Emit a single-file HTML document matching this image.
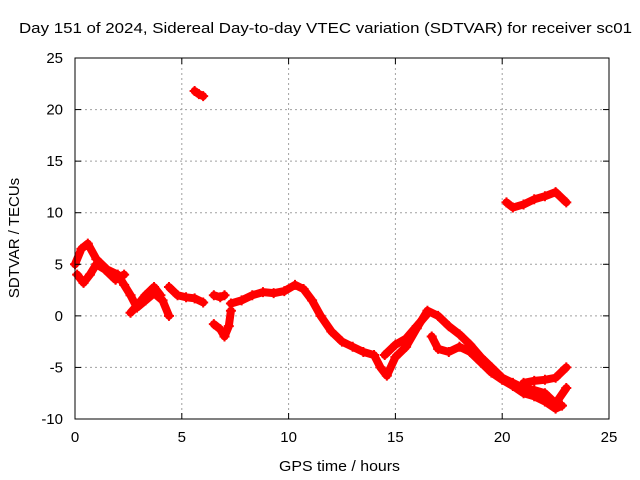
<!DOCTYPE html>
<html><head><meta charset="utf-8"><style>
body{margin:0;background:#fff}
svg{display:block;font-family:"Liberation Sans",sans-serif}
</style></head><body>
<svg id="c" width="640" height="480">
<text x="19" y="33" font-size="15" textLength="613" lengthAdjust="spacingAndGlyphs">Day 151 of 2024, Sidereal Day-to-day VTEC variation (SDTVAR) for receiver sc01</text>
<text x="279" y="471" font-size="15" textLength="121" lengthAdjust="spacingAndGlyphs">GPS time / hours</text>
<text transform="translate(19,238) rotate(-90)" text-anchor="middle" font-size="15">SDTVAR / TECUs</text>
<g id="grid"></g><g id="marks"></g><g id="axes"></g>
</svg>
<script>
const xTicks=[0,5,10,15,20,25];
const yTicks=[-10,-5,0,5,10,15,20,25];
const sA_t=[0,0.3,0.6,1,1.5,2,2.3,2.6,2.9,3.3,3.7,4.1,4.4];
const sA_v=[5,6.5,7,5.5,4.5,4,3,2,0.8,1.5,2.2,1.5,0];
const sB_t=[0.1,0.4,0.7,1,1.4,1.9,2.3];
const sB_v=[4,3.2,4,5,4.5,3.5,4];
const sC_t=[2.6,2.9,3.3,3.7,4];
const sC_v=[0.3,1,2,2.8,2];
const sD_t=[4.4,4.8,5.2,5.6,6];
const sD_v=[2.8,2,1.8,1.7,1.3];
const sE_t=[6.5,6.8,7.0];
const sE_v=[2,1.8,2];
const sF_t=[6.5,6.8,7.0,7.2,7.3];
const sF_v=[-0.8,-1.3,-2,-1,0.5];
const sG_t=[7.3,7.8,8.3,8.8,9.3,9.8,10.3,10.7,11.1,11.5,12,12.5,13,13.5,14,14.3,14.6,15,15.5,16,16.5,17,17.5,18,18.5,19,19.5,20,20.5,21,21.5,22,22.5,23];
const sG_v=[1.2,1.5,2,2.3,2.2,2.4,3,2.6,1.5,0,-1.5,-2.5,-3,-3.5,-3.8,-5,-5.8,-4,-3,-1.2,0.5,0,-1,-1.8,-2.8,-4,-5,-6,-6.5,-7,-7.2,-7.5,-8.5,-7];
const sH_t=[14.5,15,15.5,16,16.5];
const sH_v=[-3.8,-2.8,-2.2,-1,0.2];
const sI_t=[16.7,17,17.5,18,18.5,19,19.5,20,20.5,21,21.5,22,22.5,22.8];
const sI_v=[-2,-3.2,-3.5,-3,-3.5,-4.5,-5.5,-6.2,-6.8,-7.5,-7.8,-8.3,-9,-8.7];
const sJ_t=[21,21.5,22,22.5,23];
const sJ_v=[-6.5,-6.3,-6.2,-6,-5];
const sK_t=[20.2,20.5,21,21.5,22,22.5,23];
const sK_v=[11,10.5,10.8,11.3,11.6,12,11];
const sL_t=[5.6,5.8,6];
const sL_v=[21.8,21.5,21.3];
const series=[[sA_t,sA_v],[sB_t,sB_v],[sC_t,sC_v],[sD_t,sD_v],[sE_t,sE_v],[sF_t,sF_v],[sG_t,sG_v],[sH_t,sH_v],[sI_t,sI_v],[sJ_t,sJ_v],[sK_t,sK_v],[sL_t,sL_v]];
const X0=75,X1=609,Y0=419,Y1=58;
const xs=t=>X0+(t-0)/25*(X1-X0);
const ys=v=>Y0-(v+10)/35*(Y0-Y1);
const NS="http://www.w3.org/2000/svg";
function mk(tag,attrs,parent){const e=document.createElementNS(NS,tag);for(const k in attrs)e.setAttribute(k,attrs[k]);parent.appendChild(e);return e;}
const grid=document.getElementById('grid'),axes=document.getElementById('axes'),marks=document.getElementById('marks');
xTicks.forEach(t=>{const x=xs(t);
 if(t>0&&t<25){const g=mk('line',{x1:x,x2:x,y1:Y1,y2:Y0,stroke:'#a0a0a0','stroke-dasharray':'2,3'},grid);}
 mk('line',{x1:x,x2:x,y1:Y0,y2:Y0-6,stroke:'#000'},axes);mk('line',{x1:x,x2:x,y1:Y1,y2:Y1+6,stroke:'#000'},axes);
 const l=mk('text',{x:x,y:Y0+23,'text-anchor':'middle','font-size':'15'},axes);l.textContent=t;
 });
yTicks.forEach(v=>{const y=ys(v);
 if(v>-10&&v<25){const g=mk('line',{x1:X0,x2:X1,y1:y,y2:y,stroke:'#a0a0a0','stroke-dasharray':'2,3'},grid);}
 mk('line',{x1:X0,x2:X0+6,y1:y,y2:y,stroke:'#000'},axes);mk('line',{x1:X1,x2:X1-6,y1:y,y2:y,stroke:'#000'},axes);
 const l=mk('text',{x:X0-12,y:y+5,'text-anchor':'end','font-size':'15'},axes);l.textContent=v;
 });
const fr=mk('rect',{x:X0,y:Y1,width:X1-X0,height:Y0-Y1,fill:'none',stroke:'#000'},axes);

series.forEach(([T,V])=>{
 const pts=T.map((t,i)=>xs(t)+','+ys(V[i])).join(' ');
 const p=mk('polyline',{points:pts,fill:'none',stroke:'#ff0000','stroke-width':'8','stroke-linejoin':'round','stroke-linecap':'round'},marks);
 
 T.forEach((t,i)=>{const x=xs(t),y=ys(V[i]);
  const c=mk('path',{d:`M${x-5},${y}H${x+5}M${x},${y-5}V${y+5}`,stroke:'#ff0000','stroke-width':'2'},marks);
  });
});
</script>
</body></html>
